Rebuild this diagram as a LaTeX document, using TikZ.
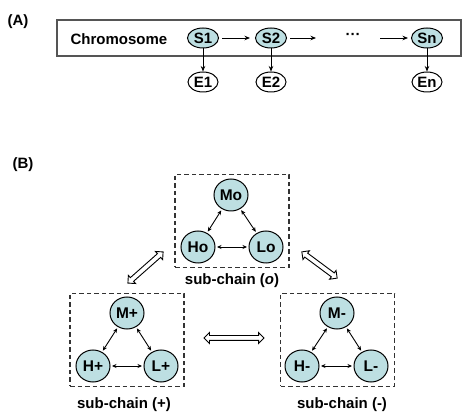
\documentclass[tikz,border=0pt]{standalone}
\usepackage{fontspec}
\setmainfont{Liberation Sans}
\usetikzlibrary{arrows.meta,shapes.geometric,shapes.arrows}
\definecolor{cellfill}{HTML}{BDDFE2}
\definecolor{boxgray}{HTML}{555555}
\tikzset{
  lab/.style={font=\fontsize{15}{18}\selectfont\bfseries, inner sep=0pt},
  sstate/.style={ellipse, draw, line width=1pt, fill=cellfill, minimum width=31pt, minimum height=20pt, inner sep=0pt, font=\fontsize{15}{18}\selectfont\bfseries},
  estate/.style={ellipse, draw, line width=1pt, fill=white, minimum width=30pt, minimum height=20pt, inner sep=0pt, font=\fontsize{15}{18}\selectfont\bfseries},
  cstate/.style={ellipse, draw, line width=1pt, fill=cellfill, minimum width=34pt, minimum height=32pt, inner sep=0pt, font=\fontsize{15.5}{18}\selectfont\bfseries},
  chainarrow/.style={-{Stealth[length=5.5pt,width=4.5pt]}, line width=0.9pt},
  linkarrow/.style={{Stealth[length=4.5pt,width=4pt]}-{Stealth[length=4.5pt,width=4pt]}, line width=0.9pt, shorten <=1.5pt, shorten >=1.5pt},
  subbox/.style={draw, dashed, dash pattern=on 4.5pt off 3pt, line width=1.2pt, draw=black!80, minimum width=114pt, minimum height=93pt, inner sep=0pt},
  bigarrow/.style={double arrow, draw, fill=white, line width=0.9pt, minimum width=10pt, double arrow head extend=3pt, inner xsep=0pt, inner ysep=2pt, double arrow head indent=0pt},
}
\begin{document}
\begin{tikzpicture}[x=1pt,y=-1pt]
\useasboundingbox (0,0) rectangle (474,419);
% Panel A
\node[lab] (labA) at (18,22) {(A)};
\node[draw=boxgray, line width=1.3pt, minimum width=404pt, minimum height=36pt, inner sep=0pt] (chrom) at (259,38) {};
\node[lab] (chromtxt) at (119,39) {Chromosome};
\node[sstate] (S1) at (203,38) {S1};
\node[sstate] (S2) at (271,38) {S2};
\node[sstate] (Sn) at (427,38) {Sn};
\node[estate] (E1) at (203,82) {E1};
\node[estate] (E2) at (271,82) {E2};
\node[estate] (En) at (427,82) {En};
\node[lab] (dots) at (353,36) {···};
\coordinate (c2) at (316,38);
\coordinate (cn) at (380,38);
\draw[chainarrow, shorten <=3pt, shorten >=5pt] (S1) -- (S2);
\draw[chainarrow, shorten <=3pt] (S2) -- (c2);
\draw[chainarrow, shorten >=3pt] (cn) -- (Sn);
\draw[chainarrow] (S1) -- (E1);
\draw[chainarrow] (S2) -- (E2);
\draw[chainarrow] (Sn) -- (En);
% Panel B
\node[lab] (labB) at (23,165) {(B)};
% sub-chain o
\node[subbox] (boxo) at (232,221) {};
\node[cstate] (Mo) at (231,195) {Mo};
\node[cstate] (Ho) at (198,247) {Ho};
\node[cstate] (Lo) at (266,247) {Lo};
\draw[linkarrow] (Mo) -- (Ho);
\draw[linkarrow] (Mo) -- (Lo);
\draw[linkarrow] (Ho) -- (Lo);
\node[lab] (subo) at (232,281) {sub-chain (\textit{o})};
% sub-chain +
\node[subbox] (boxp) at (127,340) {};
\node[cstate] (Mp) at (127,313) {M+};
\node[cstate] (Hp) at (93,366) {H+};
\node[cstate] (Lp) at (161,366) {L+};
\draw[linkarrow] (Mp) -- (Hp);
\draw[linkarrow] (Mp) -- (Lp);
\draw[linkarrow] (Hp) -- (Lp);
\node[lab] (subp) at (124,405) {sub-chain (+)};
% sub-chain -
\node[subbox] (boxm) at (337.5,340) {};
\node[cstate] (Mm) at (337,313) {M-};
\node[cstate] (Hm) at (302,366) {H-};
\node[cstate] (Lm) at (371,366) {L-};
\draw[linkarrow] (Mm) -- (Hm);
\draw[linkarrow] (Mm) -- (Lm);
\draw[linkarrow] (Hm) -- (Lm);
\node[lab] (subm) at (342,405) {sub-chain (-)};
% transitions between sub-chains
\node[bigarrow, minimum height=60pt] (tpm) at (234,338) {};
\node[bigarrow, minimum height=47pt, rotate=41.5] (tpo) at (145.5,267.5) {};
\node[bigarrow, minimum height=44pt, rotate=-36.6] (tom) at (319.5,265) {};
\end{tikzpicture}
\end{document}
